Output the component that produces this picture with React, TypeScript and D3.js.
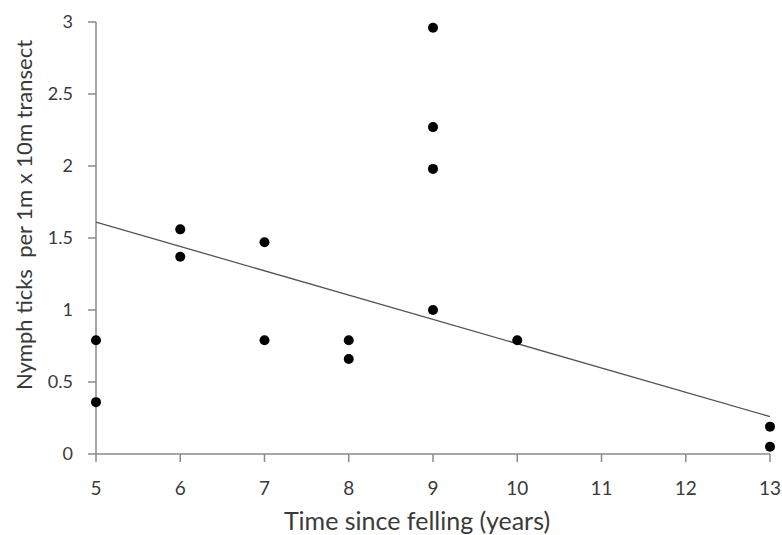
import React from "react";
import * as d3 from "d3";

const xTicks = [5, 6, 7, 8, 9, 10, 11, 12, 13];
const yTicks = [0, 0.5, 1, 1.5, 2, 2.5, 3];
const yTickLabels = ["0", "0.5", "1", "1.5", "2", "2.5", "3"];
const pointX = [5, 5, 6, 6, 7, 7, 8, 8, 9, 9, 9, 9, 10, 13, 13];
const pointY = [0.79, 0.36, 1.56, 1.37, 1.47, 0.79, 0.79, 0.66, 2.96, 2.27, 1.98, 1.0, 0.79, 0.19, 0.05];
const trendX = [5, 13];
const trendY = [1.61, 0.26];
const xTitle = "Time since felling (years)";
const yTitle = "Nymph ticks  per 1m x 10m transect";

export default function App() {
  const W = 782, H = 535;
  const x = d3.scaleLinear().domain([5, 13]).range([96, 770]);
  const y = d3.scaleLinear().domain([0, 3]).range([454, 22]);
  const font = "Lato, sans-serif";
  const axisColor = "#8a8a8a";
  const textColor = "#3a3a3a";
  const line = d3.line<number>().x((_, i) => x(trendX[i])).y((d) => y(d));
  return (
    <svg width={W} height={H} style={{ position: "absolute", left: 0, top: 0, background: "#fff" }}>
      <line x1={x(5)} x2={x(5)} y1={y(3)} y2={y(0)} stroke={axisColor} strokeWidth={1.5} />
      <line x1={x(5)} x2={x(13)} y1={y(0)} y2={y(0)} stroke={axisColor} strokeWidth={1.5} />
      {yTicks.map((t, i) => (
        <g key={"y" + i}>
          <line x1={x(5) - 8} x2={x(5)} y1={y(t)} y2={y(t)} stroke={axisColor} strokeWidth={1.5} />
          <text x={73} y={y(t)} dy="0.35em" textAnchor="end" fontFamily={font} fontSize={18} fill={textColor}>
            {yTickLabels[i]}
          </text>
        </g>
      ))}
      {xTicks.map((t, i) => (
        <g key={"x" + i}>
          <line x1={x(t)} x2={x(t)} y1={y(0)} y2={y(0) + 8} stroke={axisColor} strokeWidth={1.5} />
          <text x={x(t)} y={488} dy="0.35em" textAnchor="middle" fontFamily={font} fontSize={19} fill={textColor}>
            {t}
          </text>
        </g>
      ))}
      <path d={line(trendY) || ""} fill="none" stroke="#555" strokeWidth={1.3} />
      {pointX.map((px, i) => (
        <circle key={"p" + i} cx={x(px)} cy={y(pointY[i])} r={5} fill="#000" />
      ))}
      <text x={417} y={521} dy="0.35em" textAnchor="middle" fontFamily={font} fontSize={25} fill={textColor}>
        {xTitle}
      </text>
      <text transform={`translate(24, 215) rotate(-90)`} textAnchor="middle" dy="0.35em" fontFamily={font} fontSize={22} fill={textColor} style={{ whiteSpace: "pre" }}>
        {yTitle}
      </text>
    </svg>
  );
}
